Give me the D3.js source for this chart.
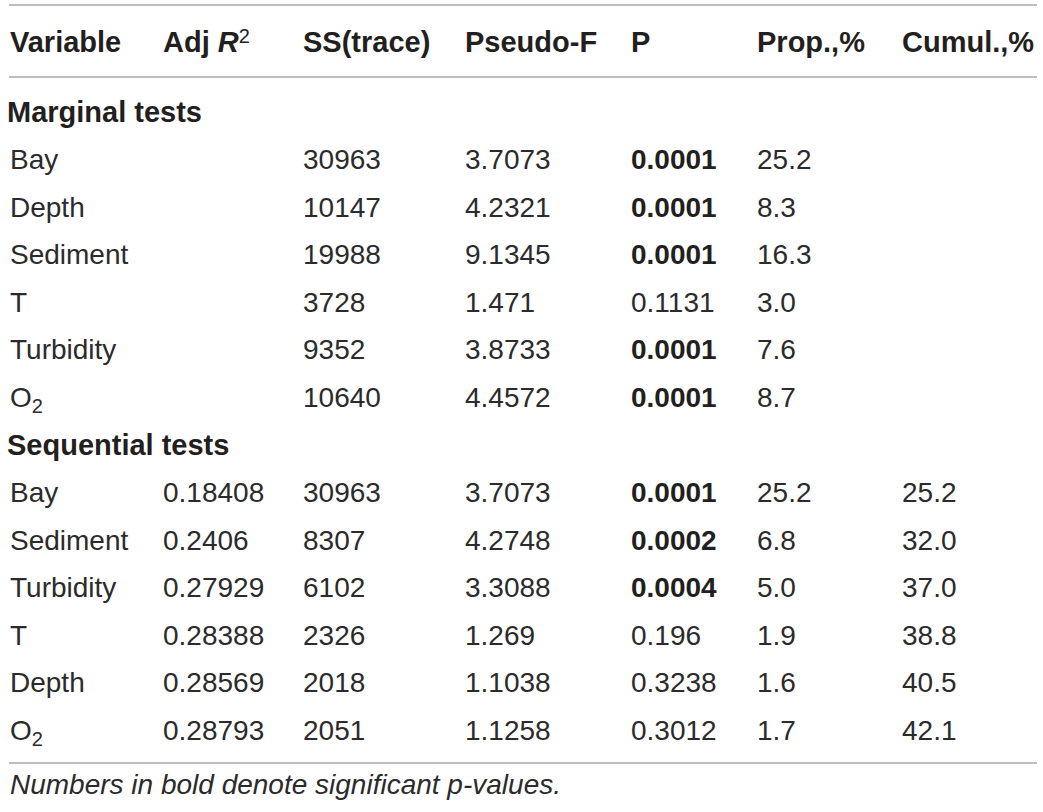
<!DOCTYPE html>
<html>
<head>
<meta charset="utf-8">
<script src="https://cdn.jsdelivr.net/npm/d3@7"></script>
<style>
  body { margin: 0; background: #fff; }
  text { font-family: "Liberation Sans", Arial, sans-serif; fill: #231f20; }
</style>
</head>
<body>
<div id="table"></div>
<script>
// column headers
const headers = ['Variable', 'Adj R2', 'SS(trace)', 'Pseudo-F', 'P', 'Prop.,%', 'Cumul.,%'];

// marginal tests
const margVars = ['Bay', 'Depth', 'Sediment', 'T', 'Turbidity', 'O2'];
const margSS = ['30963', '10147', '19988', '3728', '9352', '10640'];
const margF = ['3.7073', '4.2321', '9.1345', '1.471', '3.8733', '4.4572'];
const margP = ['0.0001', '0.0001', '0.0001', '0.1131', '0.0001', '0.0001'];
const margProp = ['25.2', '8.3', '16.3', '3.0', '7.6', '8.7'];

// sequential tests
const seqVars = ['Bay', 'Sediment', 'Turbidity', 'T', 'Depth', 'O2'];
const seqAdjR2 = ['0.18408', '0.2406', '0.27929', '0.28388', '0.28569', '0.28793'];
const seqSS = ['30963', '8307', '6102', '2326', '2018', '2051'];
const seqF = ['3.7073', '4.2748', '3.3088', '1.269', '1.1038', '1.1258'];
const seqP = ['0.0001', '0.0002', '0.0004', '0.196', '0.3238', '0.3012'];
const seqProp = ['25.2', '6.8', '5.0', '1.9', '1.6', '1.7'];
const seqCumul = ['25.2', '32.0', '37.0', '38.8', '40.5', '42.1'];

const footnote = 'Numbers in bold denote significant p-values.';

const width = 1043;
const height = 812;
const keys = ['var', 'adj', 'ss', 'f', 'p', 'prop', 'cum'];

// build row list
const rows = [];
rows.push({ section: 'Marginal tests' });
margVars.forEach((v, i) => rows.push({ var: v, adj: '', ss: margSS[i], f: margF[i], p: margP[i], prop: margProp[i], cum: '' }));
rows.push({ section: 'Sequential tests' });
seqVars.forEach((v, i) => rows.push({ var: v, adj: seqAdjR2[i], ss: seqSS[i], f: seqF[i], p: seqP[i], prop: seqProp[i], cum: seqCumul[i] }));

const x = d3.scaleOrdinal().domain(keys).range([10, 163, 303, 465, 631, 757, 902]);
const y = d3.scalePoint().domain(d3.range(rows.length)).range([112, 730]);

const svg = d3.select('#table').append('svg')
    .attr('width', width)
    .attr('height', height);

// rules
svg.selectAll('line.rule')
    .data([5, 77, 763])
    .enter().append('line')
    .attr('class', 'rule')
    .attr('x1', 9).attr('x2', 1037)
    .attr('y1', d => d).attr('y2', d => d)
    .attr('stroke', '#a8a8a8')
    .attr('stroke-width', 1.5);

// header
const head = svg.selectAll('text.head')
    .data(headers)
    .enter().append('text')
    .attr('class', 'head')
    .attr('x', (d, i) => x(keys[i]))
    .attr('y', 42)
    .attr('dy', '0.35em')
    .style('font-size', '29px')
    .style('font-weight', 'bold');

head.each(function (d) {
    const t = d3.select(this);
    if (d === 'Adj R2') {
        t.append('tspan').text('Adj ');
        t.append('tspan').text('R').style('font-style', 'italic');
        t.append('tspan').text('2').attr('dy', '-0.45em').style('font-size', '20px').style('font-weight', 'normal');
    } else {
        t.text(d);
    }
});

// variable label with subscript for O2
function label(sel, d) {
    if (d === 'O2') {
        sel.append('tspan').text('O');
        sel.append('tspan').text('2').attr('dy', '0.3em').style('font-size', '20px');
    } else {
        sel.text(d);
    }
}

rows.forEach((r, i) => {
    if (r.section) {
        svg.append('text')
            .attr('x', 7)
            .attr('y', y(i))
            .attr('dy', '0.35em')
            .style('font-size', '29px')
            .style('font-weight', 'bold')
            .text(r.section);
        return;
    }
    keys.forEach(k => {
        if (!r[k]) return;
        const t = svg.append('text')
            .attr('x', x(k))
            .attr('y', y(i))
            .attr('dy', '0.35em')
            .style('font-size', '28px')
            .style('fill', '#2b2b2b');
        if (k === 'var') label(t, r[k]);
        else t.text(r[k]);
        if (k === 'p' && +r[k] < 0.05) t.style('font-weight', 'bold').style('fill', '#231f20');
    });
});

svg.append('text')
    .attr('x', 10)
    .attr('y', 784)
    .attr('dy', '0.35em')
    .style('font-size', '28px')
    .style('font-style', 'italic')
    .style('fill', '#2b2b2b')
    .text(footnote);
</script>
</body>
</html>
